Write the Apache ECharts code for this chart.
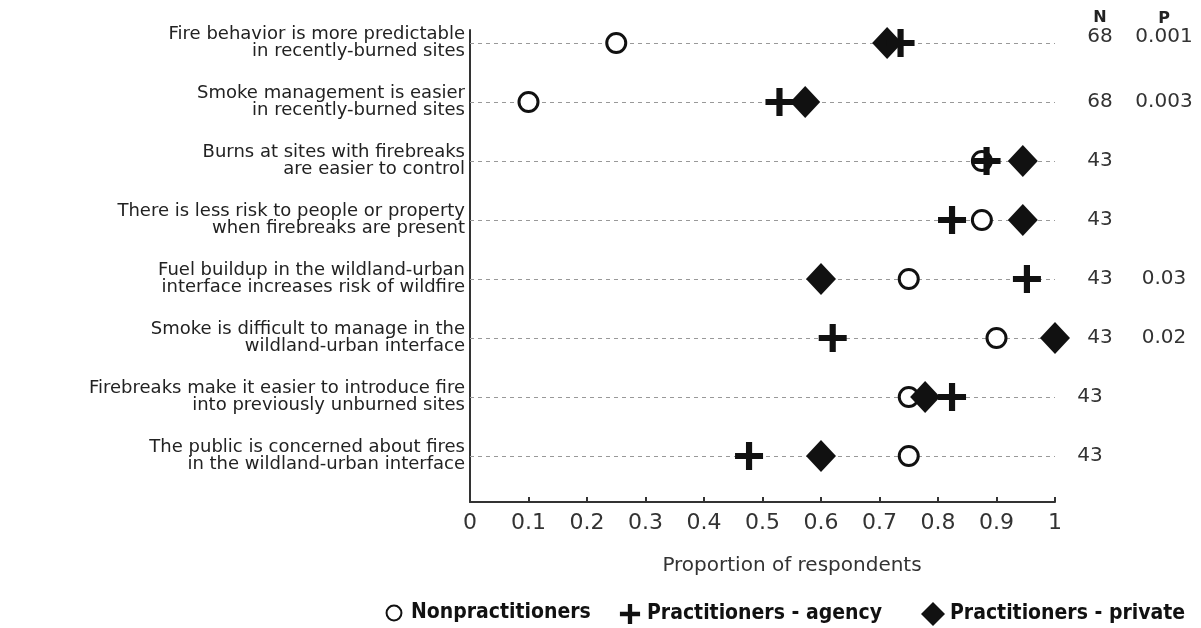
<!DOCTYPE html>
<html><head><meta charset="utf-8">
<script src="https://cdn.jsdelivr.net/npm/echarts@6/dist/echarts.min.js"></script>
<style>html,body{margin:0;padding:0;background:#fff}#c{width:1201px;height:628px}</style>
</head><body><div id="c"></div>
<script>
const categories = [
  'Fire behavior is more predictable\nin recently-burned sites',
  'Smoke management is easier\nin recently-burned sites',
  'Burns at sites with firebreaks\nare easier to control',
  'There is less risk to people or property\nwhen firebreaks are present',
  'Fuel buildup in the wildland-urban\ninterface increases risk of wildfire',
  'Smoke is difficult to manage in the\nwildland-urban interface',
  'Firebreaks make it easier to introduce fire\ninto previously unburned sites',
  'The public is concerned about fires\nin the wildland-urban interface'
];
const nonpractitioners = [0.25, 0.10, 0.875, 0.875, 0.75, 0.90, 0.75, 0.75];
const agency = [0.736, 0.529, 0.883, 0.824, 0.952, 0.62, 0.824, 0.477];
const privatePract = [0.713, 0.573, 0.945, 0.945, 0.60, 1.0, 0.778, 0.60];
const nValues = ['68', '68', '43', '43', '43', '43', '43', '43'];
const pValues = ['0.001', '0.003', '', '', '0.03', '0.02', '', ''];
const xTicks = [0, 1, 0.1];
const seriesNames = ['Nonpractitioners', 'Practitioners - agency', 'Practitioners - private'];
const columnHeaders = ['N', 'P'];

const FONT = 'DejaVu Sans';
const TXT = '#333';
const PLUS = 'path://M39,0H61V39H100V61H61V100H39V61H0V39H39Z';
const ICON_CIRCLE = 'path://M0,0M100,100M50,19A31,31 0 1,1 50,81A31,31 0 1,1 50,19Z';
const ICON_PLUS = 'path://M0,0M100,100M41,8H59V41H92V59H59V92H41V59H8V41H41Z';
const ICON_DIAMOND = 'path://M50,0L100,50L50,100L0,50Z';

const rowIdx = categories.map((c, i) => i);
function idx(v) {
  const r = Math.round(v);
  return Math.abs(v - r) < 1e-6 && r >= 0 && r < categories.length ? r : -1;
}
const yBase = { type: 'value', inverse: true, min: -0.22, max: 7.78 };

const legendBase = {
  bottom: -3, itemWidth: 24, itemHeight: 24, itemGap: 0,
  textStyle: { fontFamily: 'DejaVu Sans Condensed, DejaVu Sans', fontWeight: 'bold', fontSize: 21, color: '#111' }
};

const chart = echarts.init(document.getElementById('c'), null, { renderer: 'canvas' });
chart.setOption({
  animation: false,
  backgroundColor: '#fff',
  textStyle: { fontFamily: FONT },
  title: {
    text: columnHeaders[0], left: 1100, top: 10, textAlign: 'center', padding: 0,
    textStyle: { fontFamily: FONT, fontSize: 16, fontWeight: 'bold', color: '#222' }
  },
  grid: { left: 470, right: 146, top: 30, bottom: 126, containLabel: false },
  xAxis: {
    type: 'value', min: xTicks[0], max: xTicks[1], interval: xTicks[2],
    name: 'Proportion of respondents', nameLocation: 'middle', nameGap: 54,
    nameTextStyle: { fontFamily: FONT, fontSize: 20, color: TXT, padding: [0, 0, 0, 59] },
    axisLine: { show: true, onZero: false, lineStyle: { color: '#333', width: 2 } },
    axisTick: { show: true, inside: true, length: 5, lineStyle: { color: '#333', width: 2 } },
    axisLabel: { fontFamily: FONT, fontSize: 22, color: TXT, margin: 10 },
    splitLine: { show: false }
  },
  yAxis: [
    Object.assign({}, yBase, {
      position: 'left',
      axisLine: { show: true, onZero: false, lineStyle: { color: '#333', width: 2 } },
      axisTick: { show: true, inside: true, length: 4, customValues: rowIdx, lineStyle: { color: '#333', width: 1 } },
      axisLabel: {
        fontFamily: FONT, fontSize: 18, color: '#222', lineHeight: 17, margin: 5, align: 'right',
        padding: [0, 0, 5, 0], customValues: rowIdx,
        formatter: v => { const i = idx(v); return i < 0 ? '' : categories[i]; }
      },
      splitLine: { show: false }
    }),
    Object.assign({}, yBase, {
      position: 'right', offset: 45,
      axisLine: { show: false }, axisTick: { show: false }, splitLine: { show: false },
      axisLabel: {
        fontFamily: FONT, fontSize: 20, color: TXT, margin: 0, align: 'center', customValues: rowIdx,
        formatter: v => { const i = idx(v); if (i < 0) return '';
          if (i === 0) return '{up|' + nValues[i] + '}';
          if (i >= 6) return '{lft|' + nValues[i] + '}';
          return nValues[i]; },
        rich: {
          up: { fontFamily: FONT, fontSize: 20, color: TXT, padding: [0, 0, 12, 0] },
          lft: { fontFamily: FONT, fontSize: 20, color: TXT, padding: [0, 20, 0, 0] }
        }
      }
    }),
    Object.assign({}, yBase, {
      position: 'right', offset: 109,
      name: columnHeaders[1], nameLocation: 'start', nameGap: 3, nameMoveOverlap: false,
      nameTextStyle: { fontFamily: FONT, fontSize: 16, fontWeight: 'bold', color: '#222', align: 'center' },
      axisLine: { show: false }, axisTick: { show: false }, splitLine: { show: false },
      axisLabel: {
        fontFamily: FONT, fontSize: 20, color: TXT, margin: 0, align: 'center', customValues: rowIdx,
        formatter: v => { const i = idx(v); if (i < 0) return '';
          if (i === 0) return '{up|' + pValues[i] + '}';
          return pValues[i]; },
        rich: {
          up: { fontFamily: FONT, fontSize: 20, color: TXT, padding: [0, 0, 12, 0] }
        }
      }
    })
  ],
  legend: [
    Object.assign({}, legendBase, { left: 376, data: [{ name: seriesNames[0], icon: ICON_CIRCLE }] }),
    Object.assign({}, legendBase, { left: 613, data: [{ name: seriesNames[1], icon: ICON_PLUS }] }),
    Object.assign({}, legendBase, { left: 916, data: [{ name: seriesNames[2], icon: ICON_DIAMOND }] })
  ],
  series: [
    {
      name: seriesNames[0], type: 'scatter', z: 2, symbol: 'circle', symbolSize: 19,
      itemStyle: { color: '#fff', borderColor: '#111', borderWidth: 3, opacity: 1 },
      data: nonpractitioners.map((v, i) => [v, i]),
      markLine: {
        silent: true, symbol: 'none', label: { show: false }, animation: false, z: 1,
        lineStyle: { color: '#999', width: 1, type: [4, 4] },
        emphasis: { disabled: true },
        data: rowIdx.map(i => ({ yAxis: i }))
      }
    },
    {
      name: seriesNames[2], type: 'scatter', z: 3, symbol: 'diamond', symbolSize: [30, 32],
      itemStyle: { color: '#111', opacity: 1 },
      data: privatePract.map((v, i) => [v, i])
    },
    {
      name: seriesNames[1], type: 'scatter', z: 4, symbol: PLUS, symbolSize: 28,
      itemStyle: { color: '#111', opacity: 1 },
      data: agency.map((v, i) => [v, i])
    }
  ]
});
</script>
</body></html>
